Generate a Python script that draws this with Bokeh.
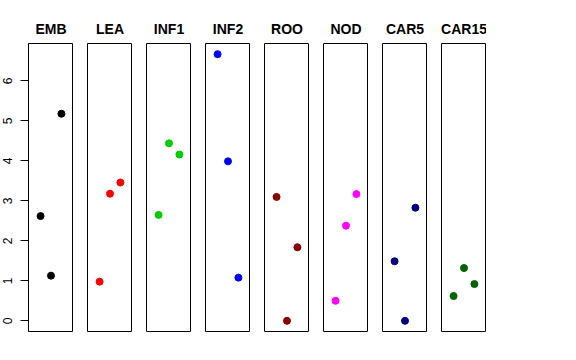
from bokeh.plotting import figure
from bokeh.layouts import row
from bokeh.models import FixedTicker, Range1d, ColumnDataSource
from bokeh.embed import file_html
from bokeh.resources import INLINE

groups = ["EMB", "LEA", "INF1", "INF2", "ROO", "NOD", "CAR5", "CAR15"]
colors = ["#000000", "#FF0000", "#00CD00", "#0000FF", "#8B0000", "#FF00FF", "#000080", "#006400"]
positions = [1, 2, 3]

emb = [2.62, 1.13, 5.18]
lea = [0.98, 3.18, 3.46]
inf1 = [2.65, 4.44, 4.16]
inf2 = [6.67, 3.99, 1.08]
roo = [3.10, 0.00, 1.84]
nod = [0.50, 2.38, 3.17]
car5 = [1.49, 0.00, 2.83]
car15 = [0.62, 1.32, 0.92]
series = [emb, lea, inf1, inf2, roo, nod, car5, car15]

y_ticks = [0, 1, 2, 3, 4, 5, 6]

all_vals = [v for s in series for v in s]
ymin, ymax = min(all_vals), max(all_vals)
ypad = 0.04 * (ymax - ymin)
x_lo, x_hi = 0, 4
xpad = 0.04 * (x_hi - x_lo)

figs = []
for i, (name, col, vals) in enumerate(zip(groups, colors, series)):
    p = figure(frame_width=45, frame_height=288, output_backend="svg",
               toolbar_location=None,
               x_range=Range1d(x_lo - xpad, x_hi + xpad),
               y_range=Range1d(ymin - ypad, ymax + ypad),
               min_border_top=43, min_border_bottom=10,
               min_border_left=0, min_border_right=0)
    p.title.text = name
    p.title.align = "center"
    p.title.text_font = "Liberation Sans"
    p.title.text_font_size = "14px"
    p.title.text_font_style = "bold"
    p.title.text_color = "black"
    p.title.standoff = 14
    p.outline_line_color = "black"
    p.outline_line_width = 1
    p.outline_line_alpha = 1
    p.xgrid.visible = False
    p.ygrid.visible = False
    p.xaxis.visible = False
    if i == 0:
        p.min_border_left = 21
        ax = p.yaxis[0]
        ax.ticker = FixedTicker(ticks=y_ticks)
        ax.major_label_orientation = "vertical"
        ax.major_label_text_font = "Liberation Sans"
        ax.major_label_text_font_size = "12px"
        ax.major_label_text_color = "black"
        ax.major_tick_out = 8
        ax.major_tick_in = 0
        ax.minor_tick_out = 0
        ax.minor_tick_in = 0
        ax.major_label_standoff = 8
        ax.axis_line_color = "black"
        ax.major_tick_line_color = "black"
    else:
        p.yaxis.visible = False
    src = ColumnDataSource(dict(x=positions, y=vals))
    p.scatter("x", "y", source=src, size=7, color=col, line_color=col)
    figs.append(p)

layout = row(figs, spacing=14)
open("out.html", "w").write(file_html(layout, INLINE))
